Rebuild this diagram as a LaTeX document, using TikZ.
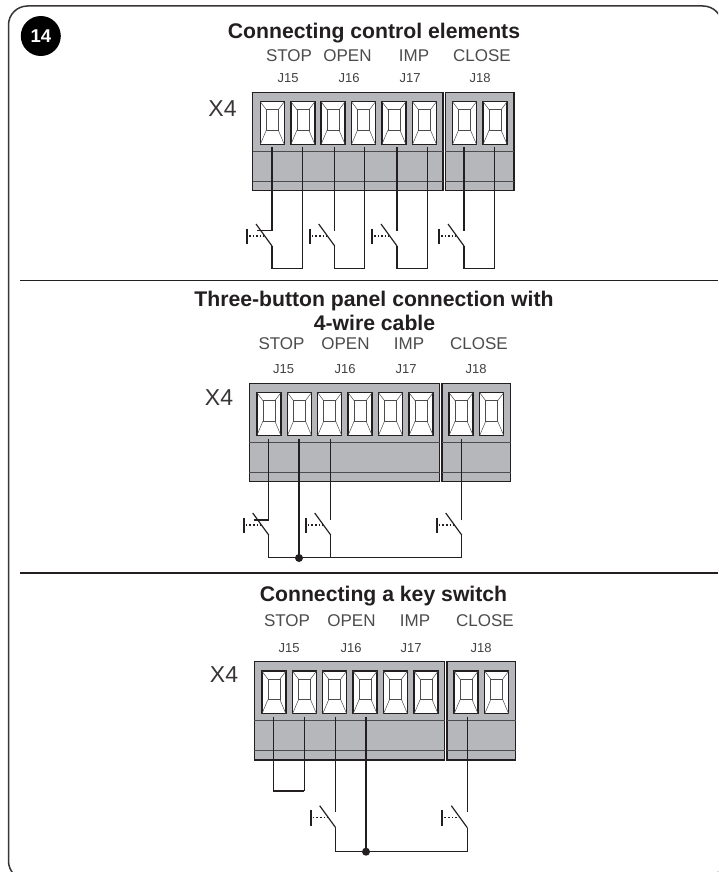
\documentclass[tikz,border=0pt]{standalone}
\usepackage{fontspec}
\setmainfont{Liberation Sans}
\definecolor{housegrey}{HTML}{B6B7BA}
\definecolor{inkdark}{HTML}{231F20}
\begin{document}
\begin{tikzpicture}[x=1pt,y=-1pt,
  frameline/.style={line width=1.5pt,color=inkdark!90},
  sepline/.style={line width=1.5pt,color=inkdark},
  housing/.style={draw=inkdark,fill=housegrey,line width=1.5pt},
  socket/.style={draw=inkdark,fill=white,line width=1.3pt},
  thin line/.style={line width=0.5pt,color=black!70},
  wire/.style={line width=1.15pt,color=inkdark,line join=miter},
  thickwire/.style={line width=1.6pt,color=inkdark},
  heading/.style={font=\fontsize{21.2}{22}\selectfont\bfseries,inner sep=0,anchor=center,color=inkdark},
  label/.style={font=\fontsize{17}{18}\selectfont,inner sep=0,anchor=center,color=black!70},
  jlabel/.style={font=\fontsize{13}{14}\selectfont,inner sep=0,anchor=center,color=black!75},
  xlabel/.style={font=\fontsize{23}{24}\selectfont,inner sep=0,anchor=center,color=inkdark!90},
  junction/.style={circle,fill=inkdark,inner sep=0,minimum size=8pt}]
\useasboundingbox (0,0) rectangle (718,872);
\fill[white] (0,0) rectangle (718,872);

% frame
\begin{scope}
\clip (0,0) rectangle (718,872);
\draw[frameline,rounded corners=19pt] (8.5,6) rectangle (722,880);
\end{scope}
\node[circle,fill=black,minimum size=40pt,inner sep=0,text=white,font=\fontsize{18.5}{19}\selectfont\bfseries] (badge) at (40.8,36) {14};

% separators
\coordinate (s1a) at (20,280.5); \coordinate (s1b) at (718,280.5);
\coordinate (s2a) at (20,573); \coordinate (s2b) at (718,573);
\draw[sepline] (s1a) -- (s1b);
\draw[sepline] (s2a) -- (s2b);

\newcommand{\sockat}[2]{%
  \draw[socket] (#1,#2) rectangle ++(24,42.7);
  \draw[thin line] (#1+6,#2+8) rectangle (#1+18,#2+28.5);
  \draw[thin line] (#1,#2) -- (#1+6,#2+8) (#1+24,#2) -- (#1+18,#2+8)
     (#1+6,#2+28.5) -- (#1,#2+42.7) (#1+18,#2+28.5) -- (#1+24,#2+42.7);
}
\newcommand{\terminal}[2]{%
  \begin{scope}[shift={(#1,#2)}]
    \draw[housing] (0,0) rectangle (190.3,98.4);
    \draw[housing] (192.6,0) rectangle (261.3,98.4);
    \draw[thin line,line width=.8pt] (0,58.7) -- (190.3,58.7) (192.6,58.7) -- (261.3,58.7);
    \draw[thin line,line width=.8pt] (0,89) -- (190.3,89) (192.6,89) -- (261.3,89);
    \foreach \sx in {7.6,38.2,68.4,98.8,129.2,159.8,199.8,230.4}{\sockat{\sx}{9.4}}
  \end{scope}
}
\newcommand{\switchsym}[2]{%
  \draw[wire] (#1,#2) -- (#1-16,#2-22);
  \draw[line width=1.7pt,color=inkdark] (#1-25,#2-17.5) -- (#1-25,#2-2);
  \draw[wire,line width=1.1pt,dash pattern=on 1.6pt off 2pt] (#1-23,#2-10) -- (#1-8,#2-10);
}

% ---------- Panel 1
\node[heading] (h1) at (374,33) {Connecting control elements};
\node[label] at (289,55.5) {STOP}; \node[label] at (347.5,55.5) {OPEN};
\node[label] at (414,55.5) {IMP}; \node[label] at (482,55.5) {CLOSE};
\node[jlabel] at (288,78.5) {J15}; \node[jlabel] at (349,78.5) {J16};
\node[jlabel] at (410,78.5) {J17}; \node[jlabel] at (480,78.5) {J18};
\node[xlabel] at (222.5,108.5) {X4};
\terminal{252.7}{92.3}
\draw[wire] (272,147.3) -- (272,230.7) -- (256.7,230.7);
\draw[wire] (272,246) -- (272,268.3) -- (302.3,268.3) -- (302.3,147.3);
\draw[thickwire] (272,268.3) -- (302.3,268.3);
\switchsym{272}{246}
\draw[wire] (334.7,147.3) -- (334.7,230.7);
\draw[wire] (334.7,246) -- (334.7,268.3) -- (364.7,268.3) -- (364.7,147.3);
\draw[thickwire] (334.7,268.3) -- (364.7,268.3);
\switchsym{334.7}{246}
\draw[wire] (397,147.3) -- (397,230.7);
\draw[wire] (397,246) -- (397,268.3) -- (427.7,268.3) -- (427.7,147.3);
\draw[thickwire] (397,268.3) -- (427.7,268.3);
\switchsym{397}{246}
\draw[wire] (464,147.3) -- (464,230.7);
\draw[wire] (464,246) -- (464,268.3) -- (494.7,268.3) -- (494.7,147.3);
\draw[thickwire] (464,268.3) -- (494.7,268.3);
\switchsym{464}{246}

% ---------- Panel 2
\node[heading] at (374,301.5) {Three-button panel connection with};
\node[heading] at (374.5,322.5) {4-wire cable};
\node[label] at (281.5,343.5) {STOP}; \node[label] at (345.5,343.5) {OPEN};
\node[label] at (409,343.5) {IMP}; \node[label] at (479,343.5) {CLOSE};
\node[jlabel] at (283.5,369) {J15}; \node[jlabel] at (345,369) {J16};
\node[jlabel] at (406,369) {J17}; \node[jlabel] at (476,369) {J18};
\node[xlabel] at (219,397.5) {X4};
\terminal{249.3}{383.3}
\draw[wire] (268.7,439) -- (268.7,520) -- (253.5,520);
\draw[wire] (268.7,535) -- (268.7,557.7) -- (461.7,557.7) -- (461.7,535);
\switchsym{268.7}{535}
\draw[wire] (330.7,439) -- (330.7,520);
\draw[wire] (330.7,535) -- (330.7,557.7);
\switchsym{330.7}{535}
\draw[wire] (461.7,439) -- (461.7,520);
\switchsym{461.7}{535}
\draw[thickwire] (299,439) -- (299,558);
\node[junction] (j2) at (299,558) {};

% ---------- Panel 3
\node[heading] at (383.5,596) {Connecting a key switch};
\node[label] at (287,621) {STOP}; \node[label] at (351.5,621) {OPEN};
\node[label] at (415,621) {IMP}; \node[label] at (485,621) {CLOSE};
\node[jlabel] at (289,648) {J15}; \node[jlabel] at (351,648) {J16};
\node[jlabel] at (411,648) {J17}; \node[jlabel] at (481,648) {J18};
\node[xlabel] at (224,675) {X4};
\terminal{254.3}{661.7}
\draw[wire] (273.3,716.7) -- (273.3,790.7) -- (304.3,790.7) -- (304.3,716.7);
\draw[thickwire] (273.3,790.7) -- (304.3,790.7);
\draw[wire] (335.7,716.7) -- (335.7,811.7);
\draw[wire] (335.7,827.7) -- (335.7,851.7) -- (467.3,851.7) -- (467.3,827.7);
\switchsym{335.7}{827.7}
\draw[wire] (467.3,716.7) -- (467.3,811.7);
\switchsym{467.3}{827.7}
\draw[wire] (366,716.7) -- (366,851.7);
\node[junction] (j3) at (366,851.7) {};
\end{tikzpicture}
\end{document}
